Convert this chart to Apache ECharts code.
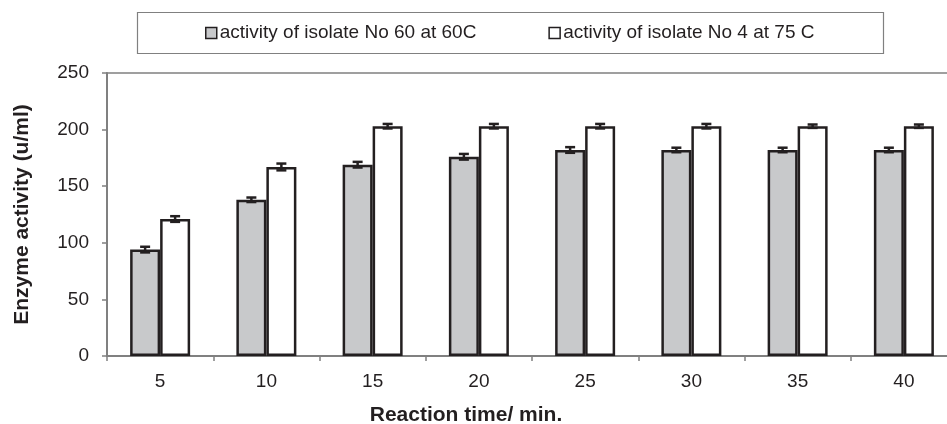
<!DOCTYPE html>
<html>
<head>
<meta charset="utf-8">
<script src="https://cdn.jsdelivr.net/npm/echarts@6/dist/echarts.min.js"></script>
<style>
  html, body { margin: 0; padding: 0; background: #fff; }
  #container { width: 947px; height: 424px; }
</style>
</head>
<body>
<div id="container"></div>
<script>
var categories = ['5', '10', '15', '20', '25', '30', '35', '40'];
var seriesNames = ['activity of isolate No 60 at 60C', 'activity of isolate No 4 at 75 C'];
var isolate60 = [94, 138, 169, 176, 182, 182, 182, 182];      // 隔离株60
var isolate60Err = [2.5, 2, 2.5, 2.5, 2.5, 2, 2, 2];
var isolate4 = [121, 167, 203, 203, 203, 203, 203, 203];       // 隔离株4
var isolate4Err = [2.5, 3, 2, 2, 2, 2, 1.5, 1.5];
var yTicks = { min: 0, max: 250, interval: 50 };

var font = 'Liberation Sans, Arial, sans-serif';
var ink = '#231f20';
var axisGray = '#808080';

function errData(vals, errs) {
  return vals.map(function (v, i) { return [i, v - errs[i], v + errs[i]]; });
}

function errRender(offset) {
  return function (params, api) {
    var i = api.value(0);
    var lo = api.coord([i, api.value(1)]);
    var hi = api.coord([i, api.value(2)]);
    var x = lo[0] + offset;
    var st = { stroke: ink, lineWidth: 2.5 };
    return {
      type: 'group',
      children: [
        { type: 'line', shape: { x1: x, y1: lo[1], x2: x, y2: hi[1] }, style: st },
        { type: 'line', shape: { x1: x - 5, y1: lo[1], x2: x + 5, y2: lo[1] }, style: st },
        { type: 'line', shape: { x1: x - 5, y1: hi[1], x2: x + 5, y2: hi[1] }, style: st }
      ]
    };
  };
}

var myChart = echarts.init(document.getElementById('container'));
var option = {
  animation: false,
  textStyle: { fontFamily: font },
  grid: {
    left: 107, right: -10, top: 73, bottom: 68,
    outerBoundsMode: 'none',
    containLabel: false,
    show: true, borderColor: axisGray, borderWidth: 1.5
  },
  legend: {
    data: seriesNames,
    left: 205, top: 23, padding: 0,
    itemWidth: 11, itemHeight: 11, itemGap: 72,
    icon: 'rect',
    itemStyle: { borderWidth: 1.5 },
    textStyle: { fontSize: 19, color: ink, fontFamily: font, padding: [0, 0, 0, -2], lineHeight: 20 }
  },
  xAxis: {
    type: 'category',
    data: categories,
    axisLine: { lineStyle: { color: axisGray, width: 2 } },
    axisTick: { show: true, interval: 0, length: 5, lineStyle: { color: axisGray, width: 1.5 } },
    axisLabel: { color: ink, fontSize: 19, margin: 16, fontFamily: font },
    splitLine: { show: false }
  },
  yAxis: {
    type: 'value',
    min: yTicks.min, max: yTicks.max, interval: yTicks.interval,
    name: 'Enzyme activity (u/ml)',
    nameLocation: 'middle',
    nameGap: 74,
    nameTextStyle: { fontSize: 21, fontWeight: 'bold', color: ink, fontFamily: font },
    axisLine: { show: true, lineStyle: { color: axisGray, width: 2 } },
    axisTick: { show: true, length: 5, lineStyle: { color: axisGray, width: 1.5 } },
    axisLabel: { color: ink, fontSize: 19, margin: 18, fontFamily: font },
    splitLine: { show: false }
  },
  graphic: [
    {
      type: 'rect',
      shape: { x: 137.5, y: 12.5, width: 746, height: 41 },
      style: { fill: 'none', stroke: axisGray, lineWidth: 1.2 },
      z: -1
    },
    {
      type: 'text',
      x: 466, y: 415,
      style: {
        text: 'Reaction time/ min.',
        font: 'bold 21px ' + font,
        fill: ink,
        textAlign: 'center',
        textVerticalAlign: 'middle'
      }
    }
  ],
  series: [
    {
      name: seriesNames[0],
      type: 'bar',
      barWidth: 30,
      barGap: '0%',
      itemStyle: { color: '#c8c9cb', borderColor: ink, borderWidth: 2.5 },
      data: isolate60
    },
    {
      name: seriesNames[1],
      type: 'bar',
      barWidth: 30,
      barGap: '0%',
      itemStyle: { color: '#ffffff', borderColor: ink, borderWidth: 2.5 },
      data: isolate4
    },
    {
      type: 'custom',
      renderItem: errRender(-15),
      encode: { x: 0, y: [1, 2] },
      data: errData(isolate60, isolate60Err),
      z: 5
    },
    {
      type: 'custom',
      renderItem: errRender(15),
      encode: { x: 0, y: [1, 2] },
      data: errData(isolate4, isolate4Err),
      z: 5
    }
  ]
};
myChart.setOption(option, true);
</script>
</body>
</html>
